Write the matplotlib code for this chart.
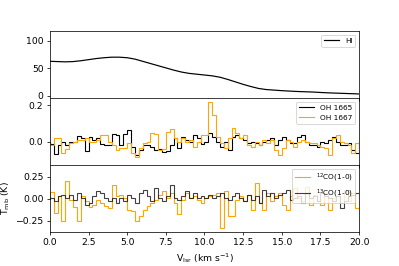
import numpy as np
import matplotlib
matplotlib.use("Agg")
import matplotlib.pyplot as plt

# HI spectrum (K), smooth
v_hi = np.arange(0, 20.5, 0.5)
t_hi = [63, 62.5, 62, 62.5, 64, 66, 68, 69.5, 70.5, 70.5, 69.5, 67, 63, 59, 55, 51,
        47, 43.5, 41, 39.5, 38, 36.5, 34, 30, 25.5, 21, 17, 13.5, 11.5, 10.5, 9.5,
        8.7, 8, 7.5, 7, 6.2, 5.5, 5, 4.5, 4, 3.5]

# channel edges for the OH and CO spectra (0.25 km/s channels)
v_edges = np.arange(0, 20.01, 0.25)

oh1665 = [-0.01, -0.07, -0.02, 0.0, -0.02, 0.0, 0.0, 0.03, 0.02, -0.05,
          0.027, 0.01, 0.018, -0.01, -0.02, -0.018, 0.04, 0.035, -0.018, 0.045,
          0.065, -0.03, -0.073, -0.046, -0.02, -0.018, -0.027, -0.046, -0.04, -0.055,
          -0.05, -0.018, 0.018, -0.037, 0.027, 0.01, 0.0, 0.037, 0.018, -0.01,
          0.0, 0.046, 0.027, 0.0, -0.027, 0.0, -0.046, 0.027, 0.037, 0.018,
          0.009, -0.009, 0.0, -0.009, -0.018, 0.0, 0.009, 0.018, -0.018, 0.009,
          0.027, 0.009, -0.009, -0.009, 0.027, 0.037, 0.0, -0.018, -0.018, -0.027,
          0.0, -0.009, 0.009, 0.027, 0.0, -0.018, -0.018, -0.009, -0.046, -0.064]

oh1667 = [-0.018, 0.018, 0.02, -0.06, -0.04, -0.009, 0.0, 0.009, 0.009, 0.018,
          0.0, 0.0, 0.009, 0.035, 0.037, 0.0, -0.018, -0.046, -0.037, -0.037,
          -0.009, -0.06, -0.082, -0.037, -0.009, 0.0, 0.046, 0.04, -0.046, -0.04,
          0.055, 0.07, 0.018, 0.0, 0.018, 0.0, 0.009, -0.027, 0.0, 0.037,
          0.037, 0.22, 0.147, 0.027, -0.009, -0.037, 0.018, 0.073, 0.046, 0.018,
          0.037, -0.018, -0.027, 0.0, -0.018, 0.009, -0.009, 0.009, -0.046, -0.073,
          -0.037, 0.009, 0.0, -0.027, 0.0, 0.009, 0.0, -0.009, -0.009, -0.018,
          -0.027, -0.037, -0.073, 0.018, 0.037, 0.0, -0.009, -0.018, -0.064, -0.009]

co12 = [0.076, -0.16, 0.03, -0.26, 0.2, -0.01, -0.09, -0.26, 0.03, -0.03,
        -0.1, -0.068, -0.011, -0.05, -0.087, -0.106, 0.16, 0.027, 0.045, 0.008,
        -0.125, -0.144, -0.26, -0.2, -0.125, -0.087, -0.05, -0.011, 0.045, 0.083,
        0.008, 0.065, -0.05, -0.18, -0.011, 0.065, 0.008, 0.027, -0.011, -0.05,
        0.008, 0.027, 0.045, 0.065, -0.33, 0.083, -0.2, -0.2, -0.011, 0.027,
        -0.03, 0.045, -0.125, 0.18, -0.05, -0.125, 0.065, -0.03, 0.027, 0.065,
        -0.068, -0.125, 0.027, 0.12, 0.008, -0.03, 0.14, -0.068, 0.045, -0.03,
        -0.068, 0.065, -0.125, 0.008, 0.027, -0.05, 0.1, -0.03, 0.065, -0.106]

co13 = [0.008, -0.03, 0.027, 0.045, 0.008, 0.045, -0.011, 0.065, 0.008, -0.068,
        -0.05, 0.027, 0.083, 0.065, 0.008, -0.03, 0.008, -0.05, 0.008, -0.03,
        0.045, 0.008, -0.05, 0.065, 0.1, 0.027, -0.03, 0.12, 0.008, -0.03,
        0.027, 0.16, 0.008, -0.011, 0.027, 0.083, 0.008, 0.065, 0.008, 0.027,
        0.008, 0.045, 0.008, 0.027, 0.065, 0.008, -0.011, 0.027, 0.065, 0.008,
        -0.03, 0.045, -0.011, 0.027, -0.05, 0.1, 0.027, 0.065, 0.008, 0.045,
        0.065, 0.1, -0.011, 0.008, 0.027, -0.05, 0.065, 0.008, 0.027, -0.03,
        0.065, 0.027, 0.008, -0.03, 0.027, -0.106, -0.03, 0.027, 0.045, 0.065]

fig, axs = plt.subplots(3, 1, sharex=True, figsize=(6, 4), dpi=66.5)
plt.subplots_adjust(left=0.125, right=0.9, top=0.883, bottom=0.128, hspace=0)

# HI
axs[0].plot(v_hi, t_hi, color='k', lw=1.3, label='HI')
axs[0].set_ylim(-4, 118)
axs[0].set_yticks([0, 50, 100])
axs[0].legend(loc='upper right', fontsize=8)

# OH
axs[1].stairs(oh1665, v_edges, color='k', lw=1.2, label='OH 1665')
axs[1].stairs(oh1667, v_edges, color='orange', lw=1.2, label='OH 1667')
axs[1].set_ylim(-0.128, 0.24)
axs[1].set_yticks([0.0, 0.2])
axs[1].legend(loc='upper right', fontsize=8)

# CO
axs[2].stairs(co12, v_edges, color='orange', lw=1.2, label=r'$^{12}$CO(1-0)')
axs[2].stairs(co13, v_edges, color='k', lw=1.2, alpha=0.75, label=r'$^{13}$CO(1-0)')
axs[2].set_ylim(-0.38, 0.386)
axs[2].set_yticks([-0.25, 0.0, 0.25])
leg = axs[2].legend(loc='upper right', fontsize=8)
leg.set_zorder(1.5)
axs[2].set_ylabel(r'T$_{\rm mb}$ (K)')

axs[2].set_xlim(0, 20)
axs[2].set_xlabel(r'V$_{\rm lsr}$ (km s$^{-1}$)')

plt.savefig('out.png', dpi=66.5)
